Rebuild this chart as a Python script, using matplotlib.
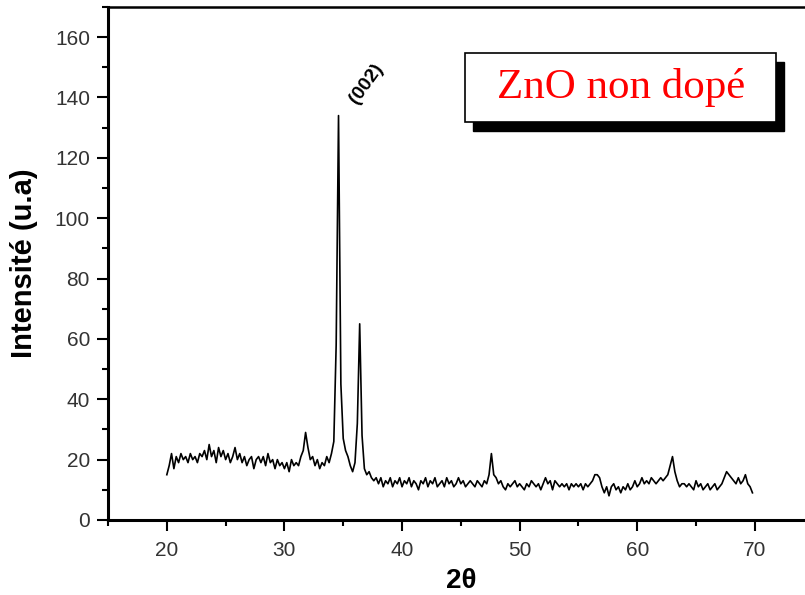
import numpy as np
import matplotlib.pyplot as plt
from matplotlib.patches import Rectangle
from matplotlib.ticker import MultipleLocator

# --- données ---
two_theta = [
    20.0, 20.2, 20.4, 20.6, 20.8, 21.0, 21.2, 21.4, 21.6, 21.8,
    22.0, 22.2, 22.4, 22.6, 22.8, 23.0, 23.2, 23.4, 23.6, 23.8,
    24.0, 24.2, 24.4, 24.6, 24.8, 25.0, 25.2, 25.4, 25.6, 25.8,
    26.0, 26.2, 26.4, 26.6, 26.8, 27.0, 27.2, 27.4, 27.6, 27.8,
    28.0, 28.2, 28.4, 28.6, 28.8, 29.0, 29.2, 29.4, 29.6, 29.8,
    30.0, 30.2, 30.4, 30.6, 30.8, 31.0, 31.2, 31.4, 31.6, 31.8,
    32.0, 32.2, 32.4, 32.6, 32.8, 33.0, 33.2, 33.4, 33.6, 33.8,
    34.0, 34.2, 34.4, 34.6, 34.8, 35.0, 35.2, 35.4, 35.6, 35.8,
    36.0, 36.2, 36.4, 36.6, 36.8, 37.0, 37.2, 37.4, 37.6, 37.8,
    38.0, 38.2, 38.4, 38.6, 38.8, 39.0, 39.2, 39.4, 39.6, 39.8,
    40.0, 40.2, 40.4, 40.6, 40.8, 41.0, 41.2, 41.4, 41.6, 41.8,
    42.0, 42.2, 42.4, 42.6, 42.8, 43.0, 43.2, 43.4, 43.6, 43.8,
    44.0, 44.2, 44.4, 44.6, 44.8, 45.0, 45.2, 45.4, 45.6, 45.8,
    46.0, 46.2, 46.4, 46.6, 46.8, 47.0, 47.2, 47.4, 47.6, 47.8,
    48.0, 48.2, 48.4, 48.6, 48.8, 49.0, 49.2, 49.4, 49.6, 49.8,
    50.0, 50.2, 50.4, 50.6, 50.8, 51.0, 51.2, 51.4, 51.6, 51.8,
    52.0, 52.2, 52.4, 52.6, 52.8, 53.0, 53.2, 53.4, 53.6, 53.8,
    54.0, 54.2, 54.4, 54.6, 54.8, 55.0, 55.2, 55.4, 55.6, 55.8,
    56.0, 56.2, 56.4, 56.6, 56.8, 57.0, 57.2, 57.4, 57.6, 57.8,
    58.0, 58.2, 58.4, 58.6, 58.8, 59.0, 59.2, 59.4, 59.6, 59.8,
    60.0, 60.2, 60.4, 60.6, 60.8, 61.0, 61.2, 61.4, 61.6, 61.8,
    62.0, 62.2, 62.4, 62.6, 62.8, 63.0, 63.2, 63.4, 63.6, 63.8,
    64.0, 64.2, 64.4, 64.6, 64.8, 65.0, 65.2, 65.4, 65.6, 65.8,
    66.0, 66.2, 66.4, 66.6, 66.8, 67.0, 67.2, 67.4, 67.6, 67.8,
    68.0, 68.2, 68.4, 68.6, 68.8, 69.0, 69.2, 69.4, 69.6, 69.8,
]
intensite = [
    15, 18, 22, 17, 21, 19, 22, 20, 21, 19,
    22, 20, 21, 19, 22, 21, 23, 20, 25, 21,
    23, 19, 24, 21, 23, 20, 22, 19, 21, 24,
    20, 22, 19, 21, 18, 20, 21, 17, 20, 21,
    19, 21, 18, 22, 19, 20, 17, 20, 18, 19,
    17, 19, 16, 20, 18, 19, 18, 21, 23, 29,
    24, 20, 21, 18, 20, 17, 19, 18, 21, 19,
    22, 26, 58, 134, 45, 27, 23, 21, 18, 16,
    19, 32, 65, 28, 17, 15, 16, 14, 13, 14,
    12, 14, 11, 13, 12, 14, 11, 13, 12, 14,
    11, 13, 12, 14, 11, 13, 12, 10, 13, 12,
    14, 11, 13, 12, 14, 11, 12, 13, 11, 14,
    12, 13, 11, 12, 14, 12, 13, 11, 12, 13,
    12, 11, 13, 12, 11, 13, 12, 15, 22, 15,
    14, 12, 13, 11, 10, 12, 11, 12, 13, 11,
    12, 11, 10, 12, 11, 13, 12, 11, 12, 10,
    12, 14, 12, 13, 10, 13, 12, 11, 12, 11,
    12, 10, 12, 11, 12, 11, 12, 10, 12, 11,
    12, 13, 15, 15, 14, 11, 9, 11, 8, 11,
    12, 10, 11, 9, 11, 10, 12, 10, 11, 13,
    11, 12, 14, 12, 13, 12, 14, 13, 12, 13,
    14, 13, 14, 15, 18, 21, 16, 13, 11, 12,
    12, 11, 12, 11, 10, 13, 11, 12, 10, 11,
    12, 10, 11, 12, 10, 11, 12, 14, 16, 15,
    14, 13, 12, 14, 12, 13, 15, 12, 11, 9,
]

plt.rcParams["font.family"] = ["Liberation Sans", "DejaVu Sans"]

fig = plt.figure(figsize=(8.05, 5.95), dpi=100)
ax = fig.add_axes([0.1342, 0.1261, 0.8765, 0.8622])

ax.plot(two_theta, intensite, color="black", linewidth=1.2)

ax.set_xlim(15, 75)
ax.set_ylim(0, 170)
ax.xaxis.set_major_locator(MultipleLocator(10))
ax.xaxis.set_minor_locator(MultipleLocator(5))
ax.yaxis.set_major_locator(MultipleLocator(20))
ax.yaxis.set_minor_locator(MultipleLocator(10))
ax.set_xticks([20, 30, 40, 50, 60, 70])
ax.set_yticks([0, 20, 40, 60, 80, 100, 120, 140, 160])

ax.tick_params(which="major", direction="out", length=8, width=1.5,
               labelsize=15, labelcolor="#333333", pad=5)
ax.tick_params(which="minor", direction="out", length=4, width=1.5)
ax.tick_params(axis="x", which="major", pad=7)

for side in ["left", "bottom"]:
    ax.spines[side].set_linewidth(2.2)
ax.spines["top"].set_linewidth(1.8)
ax.spines["right"].set_visible(False)

ax.set_xlabel("2θ", fontsize=20, fontweight="bold", labelpad=6)
ax.set_ylabel("Intensité (u.a)", fontsize=21, fontweight="bold", labelpad=12)

# étiquette du pic
ax.text(37.0, 144.5, "(002)", rotation=54, fontsize=14, fontweight="bold",
        ha="center", va="center")

# encadré avec ombre
ax.add_patch(Rectangle((46.05, 129.0), 26.45, 22.8, facecolor="black",
                       edgecolor="black", zorder=4, clip_on=False))
ax.add_patch(Rectangle((45.36, 131.8), 26.45, 22.8, facecolor="white",
                       edgecolor="black", linewidth=1.2, zorder=5, clip_on=False))
ax.text(58.6, 143.2, "ZnO non dopé", color="red", fontsize=31,
        family=["Liberation Serif", "DejaVu Serif"], ha="center", va="center",
        zorder=6)

fig.savefig("out.png", dpi=100)
